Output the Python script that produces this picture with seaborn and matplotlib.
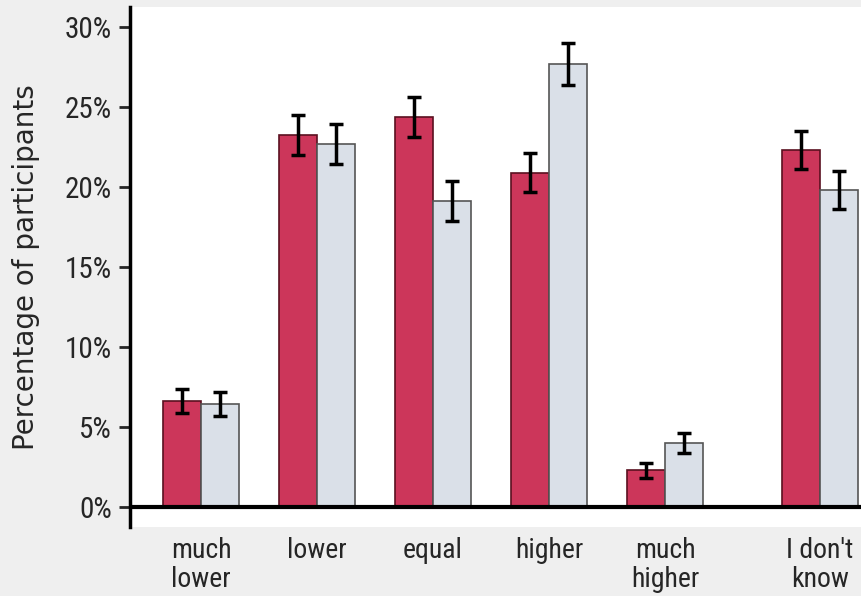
import matplotlib
matplotlib.use('Agg')
import matplotlib.pyplot as plt
from matplotlib import font_manager as fm
import seaborn as sns
import pandas as pd

categories = ['much\nlower', 'lower', 'equal', 'higher', 'much\nhigher', "I don't\nknow"]
positions = [1, 2, 3, 4, 5, 6.333]
groups = ['A', 'B']
values_a = [6.6, 23.25, 24.4, 20.9, 2.3, 22.3]
errors_a = [0.75, 1.25, 1.25, 1.2, 0.47, 1.2]
values_b = [6.45, 22.7, 19.1, 27.7, 4.0, 19.8]
errors_b = [0.75, 1.25, 1.25, 1.3, 0.6, 1.17]

df = pd.DataFrame({
    'pos': positions * 2,
    'group': ['A'] * 6 + ['B'] * 6,
    'value': values_a + values_b,
    'err': errors_a + errors_b,
})

sns.set_style('white')
plt.rcParams['font.family'] = ['Liberation Sans', 'DejaVu Sans']

# narrow font for tick labels if one is installed
names = {f.name for f in fm.fontManager.ttflist}
dejavu_cond = any(f.name == 'DejaVu Sans' and f.stretch == 'condensed' for f in fm.fontManager.ttflist)
if 'Liberation Sans Narrow' in names:
    fam, stretch = 'Liberation Sans Narrow', 'normal'
elif 'Roboto Condensed' in names:
    fam, stretch = 'Roboto Condensed', 'normal'
elif dejavu_cond:
    fam, stretch = 'DejaVu Sans', 'condensed'
else:
    fam, stretch = 'Liberation Sans', 'normal'
ytick_fp = fm.FontProperties(family=fam, stretch=stretch, size=21)
xtick_fp = fm.FontProperties(family=fam, stretch=stretch, size=20)

fig = plt.figure(figsize=(8.62, 5.96), dpi=100, facecolor='#efefef')
ax = fig.add_axes([130 / 862, 1 - 527 / 596, 1 - 130 / 862, 520 / 596])
ax.set_facecolor('white')

palette = {'A': '#cc365a', 'B': '#dae0e8'}
sns.barplot(data=df, x='pos', y='value', hue='group', hue_order=groups,
            native_scale=True, width=0.655, palette=palette, errorbar=None,
            legend=False, ax=ax, linewidth=1.2, saturation=1)

edge_colors = ['#5a1020', '#555555']
for cont, g, ec in zip(ax.containers, groups, edge_colors):
    sub = df[df['group'] == g].sort_values('pos')
    xs = [b.get_x() + b.get_width() / 2 for b in cont]
    for b in cont:
        b.set_edgecolor(ec)
    ax.errorbar(xs, sub['value'].values, yerr=sub['err'].values, fmt='none',
                ecolor='black', elinewidth=2.5, capsize=5, capthick=2.5, zorder=5)

ax.axhline(0, color='black', lw=3, zorder=6)
ax.set_xlim(0.388, 6.698)
ax.set_ylim(-1.25, 31.25)

ax.set_yticks(range(0, 31, 5))
ax.set_yticklabels([str(v) + '%' for v in range(0, 31, 5)], fontproperties=ytick_fp)
ax.set_xticks(positions)
ax.set_xticklabels(categories, fontproperties=xtick_fp, linespacing=1.1)
ax.tick_params(axis='x', length=0, pad=7)
ax.tick_params(axis='y', direction='out', length=8, width=2, left=True, pad=5)

for s in ['top', 'right', 'bottom']:
    ax.spines[s].set_visible(False)
ax.spines['left'].set_linewidth(2.5)
ax.spines['left'].set_color('black')

ax.set_xlabel('')
ax.set_ylabel('Percentage of participants', fontsize=20, labelpad=18,
              family=['DejaVu Sans'])

fig.savefig('out.png', dpi=100, facecolor=fig.get_facecolor())
